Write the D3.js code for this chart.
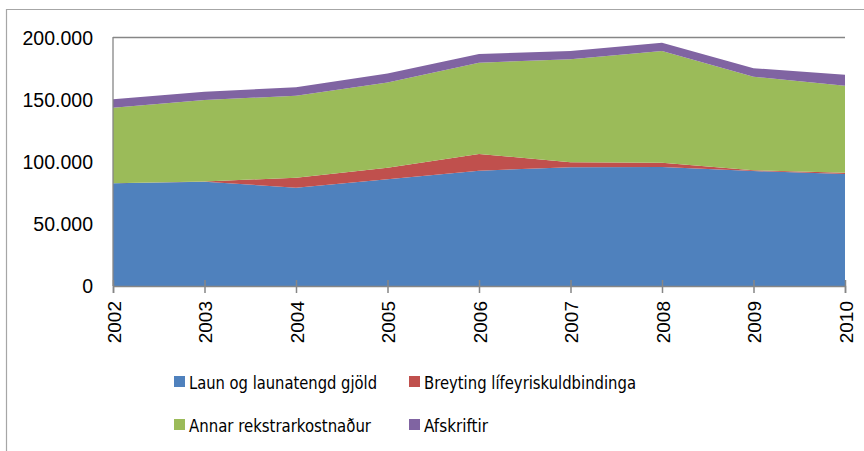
<!DOCTYPE html>
<html><head><meta charset="utf-8">
<script src="https://cdn.jsdelivr.net/npm/d3@7"></script>
<style>body{margin:0;background:#fff}svg{display:block}</style>
</head><body>
<svg id="c" width="864" height="451"></svg>
<script>
const years = ["2002","2003","2004","2005","2006","2007","2008","2009","2010"];
const laun = [82800, 84100, 79300, 86000, 93000, 95700, 96000, 92700, 90300];
const breyting = [0, 200, 8000, 9400, 13500, 4100, 3400, 700, 1100];
const annar = [61000, 65700, 66200, 68700, 73600, 83000, 90100, 75400, 70100];
const afskriftir = [6800, 6700, 6700, 7300, 7000, 6700, 6700, 6800, 8900];
const seriesNames = ["Laun og launatengd gjöld","Breyting lífeyriskuldbindinga","Annar rekstrarkostnaður","Afskriftir"];
const colors = ["#4F81BD","#C0504D","#9BBB59","#8064A2"];
const yTicks = [0, 50000, 100000, 150000, 200000];
const yTickLabels = ["0","50.000","100.000","150.000","200.000"];

const svg = d3.select("#c");
const m = {l:113, r:845, t:38, b:286};
const x = d3.scalePoint().domain(years).range([m.l, m.r]);
const y = d3.scaleLinear().domain([0,200000]).range([m.b, m.t]);

// outer border
svg.append("path").attr("d","M6.5,451 V9.5 H864").attr("fill","none").attr("stroke","#a6a6a6").attr("stroke-width",1.2);

const rows = years.map((yr,i)=>({year:yr, s0:laun[i], s1:breyting[i], s2:annar[i], s3:afskriftir[i]}));
const stack = d3.stack().keys(["s0","s1","s2","s3"]);
const layers = stack(rows);
const area = d3.area().x(d=>x(d.data.year)).y0(d=>y(d[0])).y1(d=>y(d[1]));
svg.append("g").selectAll("path").data(layers).join("path")
  .attr("d", area).attr("fill",(d,i)=>colors[i]);

const axisColor = "#868686";
svg.append("line").attr("x1",m.l).attr("x2",m.r).attr("y1",m.t-0.5).attr("y2",m.t-0.5).attr("stroke",axisColor).attr("stroke-width",1.3);
svg.append("line").attr("x1",m.l).attr("x2",m.l).attr("y1",m.t-1).attr("y2",m.b).attr("stroke",axisColor).attr("stroke-width",1.3);

const xa = svg.append("g").attr("transform",`translate(0,${m.b})`)
  .call(d3.axisBottom(x).tickSize(7).tickSizeInner(7).tickPadding(10));
xa.select(".domain").attr("stroke",axisColor).attr("stroke-width",1.5);
xa.selectAll(".tick line").attr("stroke",axisColor).attr("stroke-width",1.5).attr("y1",-6);
xa.selectAll(".tick text").attr("font-family","Liberation Sans, Arial, sans-serif").attr("font-size","19px").attr("fill","#000")
  .attr("transform","rotate(-90)").attr("text-anchor","end").attr("x",-17).attr("y",0).attr("dy","0.38em").attr("dx",2);

const ya = svg.append("g").attr("transform",`translate(${m.l},0)`)
  .call(d3.axisLeft(y).tickValues(yTicks).tickFormat((d,i)=>yTickLabels[i]).tickSize(0).tickPadding(20));
ya.select(".domain").remove();
ya.selectAll(".tick text").attr("font-family","Liberation Sans, Arial, sans-serif").attr("font-size","19.5px").attr("fill","#000");

const legend = [
  {i:0, sx:174, sy:376, w:188},
  {i:1, sx:409, sy:376, w:212},
  {i:2, sx:174, sy:419, w:182},
  {i:3, sx:409, sy:419, w:64}
];
const lg = svg.append("g");
legend.forEach(o=>{
  lg.append("rect").attr("x",o.sx).attr("y",o.sy).attr("width",11).attr("height",11).attr("fill",colors[o.i]);
  lg.append("text").attr("x",o.sx+15).attr("y",o.sy+12.5)
    .attr("font-family","Liberation Sans Narrow, DejaVu Sans Condensed, Arial Narrow, sans-serif")
    .attr("font-size","18px").attr("fill","#000")
    .attr("textLength",o.w).attr("lengthAdjust","spacingAndGlyphs").text(seriesNames[o.i]);
});
</script>
</body></html>
